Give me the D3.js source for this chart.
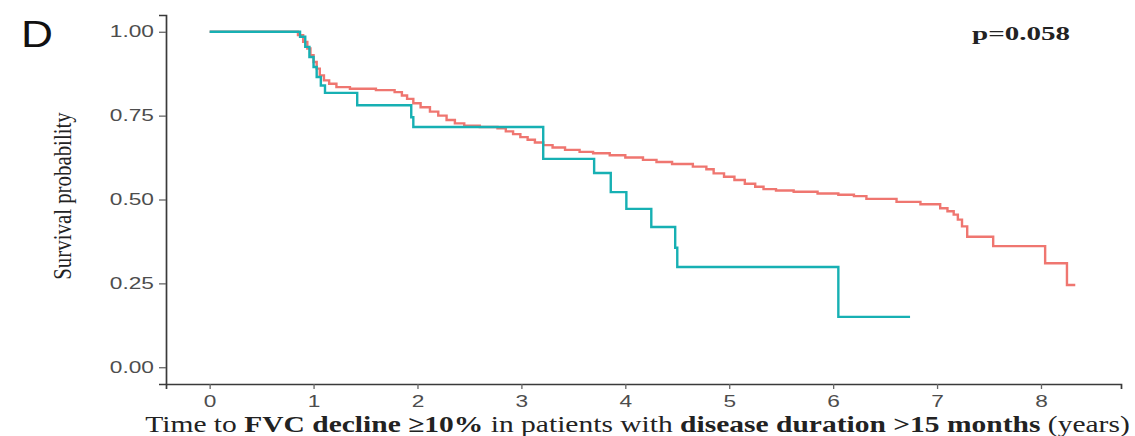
<!DOCTYPE html>
<html>
<head>
<meta charset="utf-8">
<script src="https://cdn.jsdelivr.net/npm/d3@7"></script>
<style>
  html, body { margin: 0; padding: 0; background: #fff; }
  svg { display: block; }
</style>
</head>
<body>
<svg id="chart" width="1135" height="436"></svg>
<script>
// Kaplan–Meier step data: [time in years, survival after the event]
const redTimes = [0, 0.85, 0.9, 0.94, 0.97, 1.0, 1.03, 1.06, 1.1, 1.15, 1.22, 1.35, 1.6, 1.78, 1.85, 1.9,
  1.96, 2.03, 2.12, 2.2, 2.28, 2.36, 2.45, 2.6, 2.77, 2.85, 2.92, 2.99, 3.06, 3.13, 3.21, 3.3, 3.42,
  3.56, 3.69, 3.85, 4.0, 4.17, 4.3, 4.45, 4.65, 4.78, 4.85, 4.95, 5.05, 5.15, 5.25, 5.33, 5.45, 5.62,
  5.85, 6.05, 6.2, 6.32, 6.61, 6.84, 7.03, 7.1, 7.16, 7.2, 7.24, 7.29, 7.54, 8.04, 8.25, 8.33];
const redSurv = [1.0, 0.99, 0.97, 0.95, 0.93, 0.91, 0.89, 0.87, 0.855, 0.845, 0.835, 0.83, 0.826, 0.82, 0.81, 0.8,
  0.787, 0.775, 0.762, 0.75, 0.737, 0.727, 0.72, 0.716, 0.712, 0.703, 0.695, 0.686, 0.678, 0.67, 0.662, 0.655, 0.648,
  0.642, 0.638, 0.632, 0.625, 0.618, 0.612, 0.606, 0.598, 0.59, 0.578, 0.568, 0.558, 0.547, 0.538, 0.531, 0.527, 0.523,
  0.518, 0.514, 0.51, 0.502, 0.493, 0.486, 0.474, 0.465, 0.455, 0.44, 0.42, 0.389, 0.361, 0.31, 0.245, 0.245];

const tealTimes = [0, 0.87, 0.92, 0.96, 1.0, 1.03, 1.07, 1.11, 1.42, 1.94, 1.96, 3.21, 3.7, 3.86, 4.01, 4.25,
  4.48, 4.5, 6.05, 6.74];
const tealSurv = [1.0, 0.985, 0.955, 0.925, 0.895, 0.865, 0.84, 0.818, 0.781, 0.745, 0.716, 0.621, 0.579, 0.522,
  0.472, 0.418, 0.356, 0.299, 0.15, 0.15];

const xTicks = [0, 1, 2, 3, 4, 5, 6, 7, 8];
const yTicks = [0, 0.25, 0.5, 0.75, 1.0];
const pLabel = "p=0.058";
const panelLabel = "D";
const yTitle = "Survival probability";
const xTitleParts = [
  { text: "Time to ", bold: false },
  { text: "FVC decline ≥10%", bold: true },
  { text: " in patients with ", bold: false },
  { text: "disease duration >15 months", bold: true },
  { text: " (years)", bold: false }
];

const SANS = "'Liberation Sans', Arial, sans-serif";
const SERIF = "'Liberation Serif', 'Times New Roman', serif";
const AXIS_COL = "#3a3a3a";
const TICK_TEXT = "#4d4d4d";

const svg = d3.select("#chart");

const panelLeft = 166, panelRight = 1121, panelTop = 15, panelBottom = 384;
const x = d3.scaleLinear().domain([-0.42, 8.77]).range([panelLeft, panelRight]);
const y = d3.scaleLinear().domain([-0.05, 1.05]).range([panelBottom, panelTop]);

// stretch a text element horizontally (in its own frame) to a given width
function stretch(sel, width, ax) {
  const w = sel.node().getBBox().width;
  const k = width / w;
  const t = sel.attr("transform") || "";
  sel.attr("transform", `${t} translate(${ax},0) scale(${k},1) translate(${-ax},0)`);
  return k;
}

// curves
const line = d3.line().curve(d3.curveStepAfter).x(d => x(d[0])).y(d => y(d[1]));
const redData = redTimes.map((t, i) => [t, redSurv[i]]);
const tealData = tealTimes.map((t, i) => [t, tealSurv[i]]);

svg.append("path").datum(redData).attr("d", line)
  .attr("fill", "none").attr("stroke", "#ef7670").attr("stroke-width", 2.4);
svg.append("path").datum(tealData).attr("d", line)
  .attr("fill", "none").attr("stroke", "#17b0b3").attr("stroke-width", 2.4);

// axes
const xAxis = svg.append("g").attr("transform", `translate(0,${panelBottom})`)
  .call(d3.axisBottom(x).tickValues(xTicks).tickSize(5).tickPadding(7).tickFormat(d3.format("d")));
const yAxis = svg.append("g").attr("transform", `translate(${panelLeft},0)`)
  .call(d3.axisLeft(y).tickValues(yTicks).tickSize(7).tickPadding(5).tickFormat(d3.format(".2f")));

[xAxis, yAxis].forEach(g => {
  g.select(".domain").attr("stroke", AXIS_COL).attr("stroke-width", 1.7);
  g.selectAll(".tick line").attr("stroke", "#666").attr("stroke-width", 1.3);
  g.selectAll(".tick text").attr("fill", TICK_TEXT).attr("font-family", SANS).attr("font-size", 16);
});

// widen tick labels horizontally
yAxis.selectAll(".tick text").each(function () {
  const s = d3.select(this);
  const ax = +s.attr("x");
  s.attr("transform", `translate(${ax},0) scale(1.42,1) translate(${-ax},0)`);
});
xAxis.selectAll(".tick text").attr("transform", "scale(1.42,1)");

// panel letter
const dl = svg.append("text").attr("x", 21).attr("y", 47)
  .attr("font-family", SANS).attr("font-size", 37).attr("fill", "#111").text(panelLabel);
stretch(dl, 32, 21);

// p-value
const pt = svg.append("text").attr("x", 972).attr("y", 40)
  .attr("font-family", SERIF).attr("font-weight", "bold").attr("font-size", 19).attr("fill", "#222").text(pLabel);
stretch(pt, 98, 972);

// y title
const yt = svg.append("text")
  .attr("transform", "translate(71,196) rotate(-90)")
  .attr("text-anchor", "middle").attr("font-family", SERIF).attr("font-size", 25).attr("fill", "#222")
  .text(yTitle);
{
  const w = yt.node().getBBox().width;
  yt.attr("transform", `translate(71,196) rotate(-90) scale(${168 / w},1)`);
}

// x title
const xt = svg.append("text").attr("x", 0).attr("y", 0)
  .attr("text-anchor", "middle").attr("font-family", SERIF).attr("font-size", 23).attr("fill", "#222");
xt.selectAll("tspan").data(xTitleParts).join("tspan")
  .attr("font-weight", d => d.bold ? "bold" : "normal").text(d => d.text);
{
  const w = xt.node().getBBox().width;
  xt.attr("transform", `translate(637.5,432) scale(${985 / w},1)`);
}
</script>
</body>
</html>
